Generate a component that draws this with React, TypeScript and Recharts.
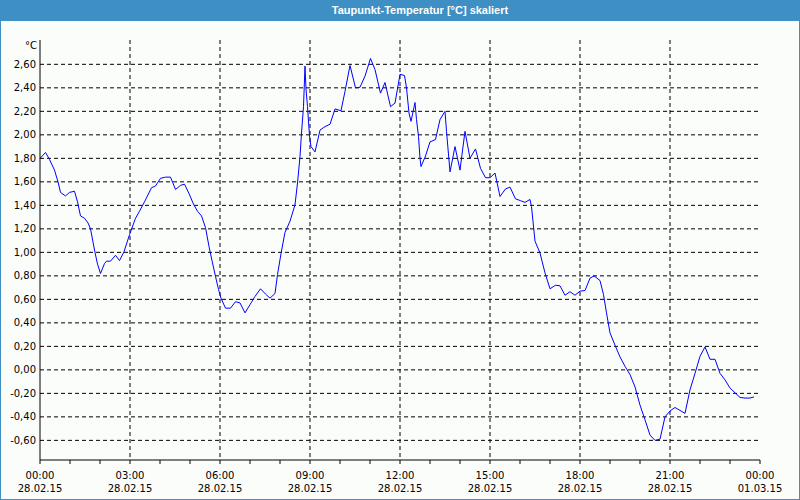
import React from 'react';
import { LineChart, Line, XAxis, YAxis, CartesianGrid } from 'recharts';

// minutes after 28.02.15 00:00
const times = [
  0, 11, 19, 29, 36, 41, 51, 59, 69, 75, 81, 89, 96, 101, 109, 115, 121, 129, 133, 141,
  151, 159, 168, 179, 191, 199, 209, 223, 231, 241, 251, 261, 271, 281, 289, 298, 307, 315, 323, 331,
  338, 345, 351, 357, 362, 371, 381, 391, 400, 410, 420, 430, 441, 451, 460, 470, 475, 482, 490, 500,
  510, 515, 520, 523, 527, 530, 532, 535, 539, 542, 550, 560, 570, 580, 590, 602, 610, 620, 631, 640,
  650, 661, 670, 681, 690, 701, 710, 720, 729, 733, 738, 742, 750, 753, 757, 760, 762, 771, 780, 791,
  800, 810, 813, 820, 830, 840, 850, 860, 871, 881, 891, 900, 910, 920, 931, 940, 951, 961, 970, 980,
  983, 990, 1000, 1010, 1020, 1031, 1040, 1050, 1060, 1070, 1080, 1090, 1100, 1108, 1120, 1127, 1133, 1140, 1150, 1160,
  1170, 1180, 1190, 1200, 1210, 1220, 1230, 1240, 1250, 1260, 1270, 1280, 1290, 1300, 1310, 1320, 1330, 1340, 1350, 1360,
  1370, 1380, 1390, 1400, 1410, 1420, 1428,
];

const values = [
  1.80, 1.85, 1.79, 1.70, 1.60, 1.51, 1.48, 1.51, 1.52, 1.43, 1.31, 1.29, 1.25, 1.20, 1.02, 0.90, 0.82, 0.905, 0.925, 0.925,
  0.975, 0.93, 1.005, 1.15, 1.29, 1.35, 1.43, 1.55, 1.565, 1.63, 1.64, 1.64, 1.535, 1.57, 1.58, 1.50, 1.41, 1.35, 1.31, 1.21,
  1.05, 0.91, 0.795, 0.685, 0.61, 0.525, 0.525, 0.58, 0.57, 0.485, 0.555, 0.625, 0.69, 0.645, 0.61, 0.65, 0.81, 0.99, 1.17, 1.265,
  1.405, 1.59, 1.815, 2.015, 2.24, 2.585, 2.39, 2.24, 1.99, 1.90, 1.855, 2.04, 2.07, 2.09, 2.22, 2.205, 2.37, 2.59, 2.40, 2.405,
  2.50, 2.65, 2.555, 2.355, 2.445, 2.24, 2.27, 2.515, 2.505, 2.40, 2.185, 2.115, 2.275, 2.13, 1.985, 1.80, 1.73, 1.82, 1.94, 1.96,
  2.13, 2.20, 2.03, 1.685, 1.90, 1.70, 2.03, 1.80, 1.88, 1.715, 1.635, 1.635, 1.675, 1.475, 1.54, 1.555, 1.455, 1.44, 1.425, 1.45,
  1.39, 1.095, 0.995, 0.825, 0.69, 0.72, 0.715, 0.635, 0.665, 0.635, 0.67, 0.675, 0.78, 0.80, 0.76, 0.64, 0.485, 0.315, 0.21, 0.11,
  0.03, -0.04, -0.145, -0.30, -0.425, -0.555, -0.60, -0.59, -0.40, -0.35, -0.32, -0.345, -0.37, -0.17, -0.03, 0.115, 0.195, 0.09, 0.09, -0.03,
  -0.085, -0.155, -0.195, -0.235, -0.24, -0.24, -0.23,
];

const yTicks = [-0.6, -0.4, -0.2, 0, 0.2, 0.4, 0.6, 0.8, 1.0, 1.2, 1.4, 1.6, 1.8, 2.0, 2.2, 2.4, 2.6];
const hourTicks = [0, 60, 120, 180, 240, 300, 360, 420, 480, 540, 600, 660, 720, 780, 840, 900, 960, 1020, 1080, 1140, 1200, 1260, 1320, 1380, 1440];
const gridTimes = [180, 360, 540, 720, 900, 1080, 1260];
const dayLabels = ['28.02.15', '01.03.15'];

const title = 'Taupunkt-Temperatur [°C] skaliert';
const unit = '°C';

const data = times.map((t, i) => ({ t, v: values[i] }));

const FONT = '"DejaVu Sans", Verdana, sans-serif';

const fmtY = (v: number) => v.toFixed(2).replace('.', ',');

const XTick = (props: any) => {
  const { x, y, payload } = props;
  const m = payload.value as number;
  if (m % 180 !== 0) return null;
  const hh = String(Math.floor((m % 1440) / 60)).padStart(2, '0');
  const mm = String(m % 60).padStart(2, '0');
  const day = m >= 1440 ? dayLabels[1] : dayLabels[0];
  return (
    <g>
      <text x={x} y={y} dy={13} textAnchor="middle" fontSize={10} fontFamily={FONT} fill="#000">
        {hh + ':' + mm}
      </text>
      <text x={x} y={y} dy={26} textAnchor="middle" fontSize={10} fontFamily={FONT} fill="#000">
        {day}
      </text>
    </g>
  );
};

export default function App() {
  return (
    <div style={{ position: 'fixed', left: 0, top: 0, width: 800, height: 500, background: '#fbfdfb', overflow: 'hidden' }}>
      <div
        style={{
          position: 'absolute', left: 0, top: 0, width: 800, height: 21, background: '#3d8fc4',
        }}
      />
      <div
        style={{
          position: 'absolute', left: 220, top: 3, width: 400, textAlign: 'center', color: '#fff',
          fontFamily: '"Liberation Sans", Arial, sans-serif', fontWeight: 'bold', fontSize: 11, lineHeight: '14px',
        }}
      >
        {title}
      </div>
      <div
        style={{
          position: 'absolute', left: 10, top: 39, width: 27, textAlign: 'right', color: '#000',
          fontFamily: FONT, fontSize: 10, lineHeight: '14px',
        }}
      >
        {unit}
      </div>
      <div style={{ position: 'absolute', left: 0, top: 0 }}>
        <LineChart width={800} height={500} data={data} margin={{ top: 40, right: 40, bottom: 0, left: 0 }}>
          <CartesianGrid
            stroke="#000"
            strokeDasharray="4 3"
            verticalValues={gridTimes}
            horizontalValues={yTicks}
          />
          <XAxis
            dataKey="t"
            type="number"
            domain={[0, 1440]}
            ticks={hourTicks}
            interval={0}
            height={40}
            tickSize={4}
            tickMargin={2}
            axisLine={{ stroke: '#000' }}
            tickLine={{ stroke: '#000' }}
            tick={<XTick />}
          />
          <XAxis
            xAxisId="top"
            orientation="top"
            type="number"
            dataKey="t"
            domain={[0, 1440]}
            height={0}
            tick={false}
            tickLine={false}
            axisLine={{ stroke: '#000' }}
          />
          <YAxis
            type="number"
            domain={[-0.767, 2.807]}
            ticks={yTicks}
            interval={0}
            width={40}
            tickLine={false}
            tickSize={2}
            tickMargin={2}
            axisLine={{ stroke: '#000' }}
            tickFormatter={fmtY}
            tick={{ fontSize: 10, fontFamily: FONT, fill: '#000' }}
            allowDataOverflow
          />
          <YAxis
            yAxisId="right"
            orientation="right"
            type="number"
            domain={[-0.767, 2.807]}
            width={0}
            tick={false}
            tickLine={false}
            axisLine={{ stroke: '#000' }}
          />
          <Line
            type="linear"
            dataKey="v"
            stroke="#0000ff"
            strokeWidth={1}
            dot={false}
            activeDot={false}
            isAnimationActive={false}
          />
        </LineChart>
      </div>
      <div
        style={{
          position: 'absolute', left: 0, top: 0, width: 800, height: 500, boxSizing: 'border-box',
          border: '1px solid #3d8fc4', pointerEvents: 'none',
        }}
      />
    </div>
  );
}
